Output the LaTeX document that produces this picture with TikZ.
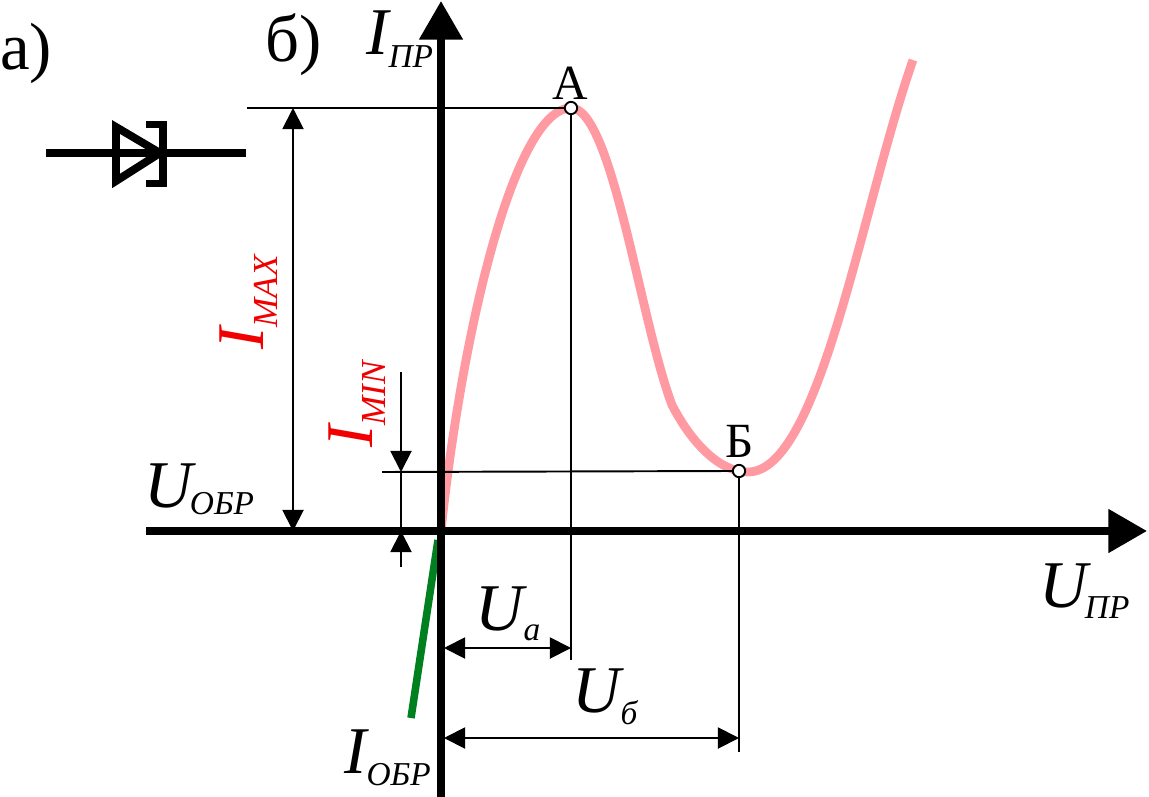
\documentclass[tikz,border=0pt]{standalone}
\usepackage{fontspec}
\setmainfont{Liberation Serif}
\usetikzlibrary{arrows.meta}
\newcommand{\biglbl}[3]{{\fontsize{38}{38}\selectfont\itshape #1}\raisebox{-#3}{\fontsize{19}{19}\selectfont\itshape #2}}
\newcommand{\redlbl}[3]{{\fontsize{38}{38}\selectfont\itshape #1}\raisebox{-#3}{\fontsize{20}{20}\selectfont\itshape #2}}
\tikzset{
  lbl/.style={inner sep=0pt,anchor=base west},
  axis/.style={line width=4.3pt,-{Triangle[length=22pt,width=24pt]}},
  thinline/.style={line width=1.1pt},
  dim/.style={line width=1.1pt,{Triangle[length=12pt,width=12pt]}-{Triangle[length=12pt,width=12pt]}},
  dimend/.style={line width=1.1pt,-{Triangle[length=12pt,width=12pt]}},
  pnt/.style={circle,draw,fill=white,line width=1.1pt,inner sep=0pt,minimum size=7pt}
}
\begin{document}
\begin{tikzpicture}[x=0.02cm,y=-0.02cm]
  % colors
  \definecolor{kPink}{RGB}{255,154,162}
  \definecolor{kGreen}{RGB}{0,128,30}
  \definecolor{kRed}{RGB}{240,0,0}
  \useasboundingbox (0,0) rectangle (1149,797);
  % curve
  \draw[kPink,line width=5pt,line join=round] (441,531) .. controls (462,330) and (515,108) .. (571,108)
    .. controls (612,108) and (640,320) .. (672,405)
    .. controls (690,440) and (718,472) .. (748,472)
    .. controls (820,472) and (862,205) .. (913,60);
  \coordinate (greenA) at (438,540);
  \coordinate (greenB) at (411,718);
  \draw[kGreen,line width=4.3pt] (greenA) -- (greenB);
  % axes
  \coordinate (xfrom) at (146,531);
  \coordinate (xto) at (1147,531);
  \coordinate (yfrom) at (441,797);
  \coordinate (yto) at (441,1);
  \draw[axis] (xfrom) -- (xto);
  \draw[axis] (yfrom) -- (yto);
  % points
  \node[pnt] (ptA) at (571,108) {};
  \node[pnt] (ptB) at (739,471) {};
  \coordinate (levA) at (247,108);
  \coordinate (levB) at (382,472);
  \coordinate (footA) at (571,660);
  \coordinate (footB) at (739,752);
  \draw[thinline] (levA) -- (ptA.west);
  \draw[thinline] (levB) -- (ptB.west);
  \draw[thinline] (ptA.south) -- (footA);
  \draw[thinline] (ptB.south) -- (footB);
  % dimensions
  \coordinate (maxT) at (293,108);
  \coordinate (maxB) at (293,531);
  \coordinate (minT) at (401,372);
  \coordinate (minM) at (401,472);
  \coordinate (minL) at (401,567);
  \coordinate (minN) at (401,531);
  \coordinate (uaL) at (444,648);
  \coordinate (uaR) at (571,648);
  \coordinate (ubL) at (444,738);
  \coordinate (ubR) at (739,738);
  \draw[dim] (maxT) -- (maxB);
  \draw[dimend] (minT) -- (minM);
  \draw[thinline] (minM) -- (minN);
  \draw[dimend] (minL) -- (minN);
  \draw[dim] (uaL) -- (uaR);
  \draw[dim] (ubL) -- (ubR);
  % diode
  \coordinate (dioL) at (46,153);
  \coordinate (dioR) at (246,153);
  \draw[line width=4.2pt] (dioL) -- (dioR);
  \draw[line width=4.5pt,miter limit=10] (116,127) -- (116,181) -- (160,153) -- cycle;
  \draw[line width=4.5pt] (146,124.5) -- (163,124.5) -- (163,183.5) -- (146,183.5);
  % labels
  \node[lbl,font=\fontsize{38}{38}\selectfont] (capa) at (0,70) {а)};
  \node[lbl,font=\fontsize{38}{38}\selectfont] (capb) at (265,62) {б)};
  \node[lbl] (lblIpr) at (366,55) {\biglbl{I}{ПР}{7pt}};
  \node[lbl] (lblUobr) at (144,507) {\biglbl{U}{\kern-1.5ptОБР}{4pt}};
  \node[lbl] (lblUpr) at (1039,607) {\biglbl{U}{\kern-1.5ptПР}{6.5pt}};
  \node[lbl] (lblUa) at (475,630) {\biglbl{U}{а}{6pt}};
  \node[lbl] (lblUb) at (572,712) {\biglbl{U}{б}{7pt}};
  \node[lbl] (lblIobr) at (344,773) {\biglbl{I}{ОБР}{7pt}};
  \node[lbl,font=\fontsize{28}{28}\selectfont] (lblA) at (552,100) {А};
  \node[lbl,font=\fontsize{28}{28}\selectfont] (lblB) at (725,457) {Б};
  \node[lbl,rotate=90,text=kRed] (lblImax) at (263,350) {\redlbl{I}{MAX}{8pt}};
  \node[lbl,rotate=90,text=kRed] (lblImin) at (372,448) {\redlbl{I}{MIN}{7.5pt}};
\end{tikzpicture}
\end{document}
